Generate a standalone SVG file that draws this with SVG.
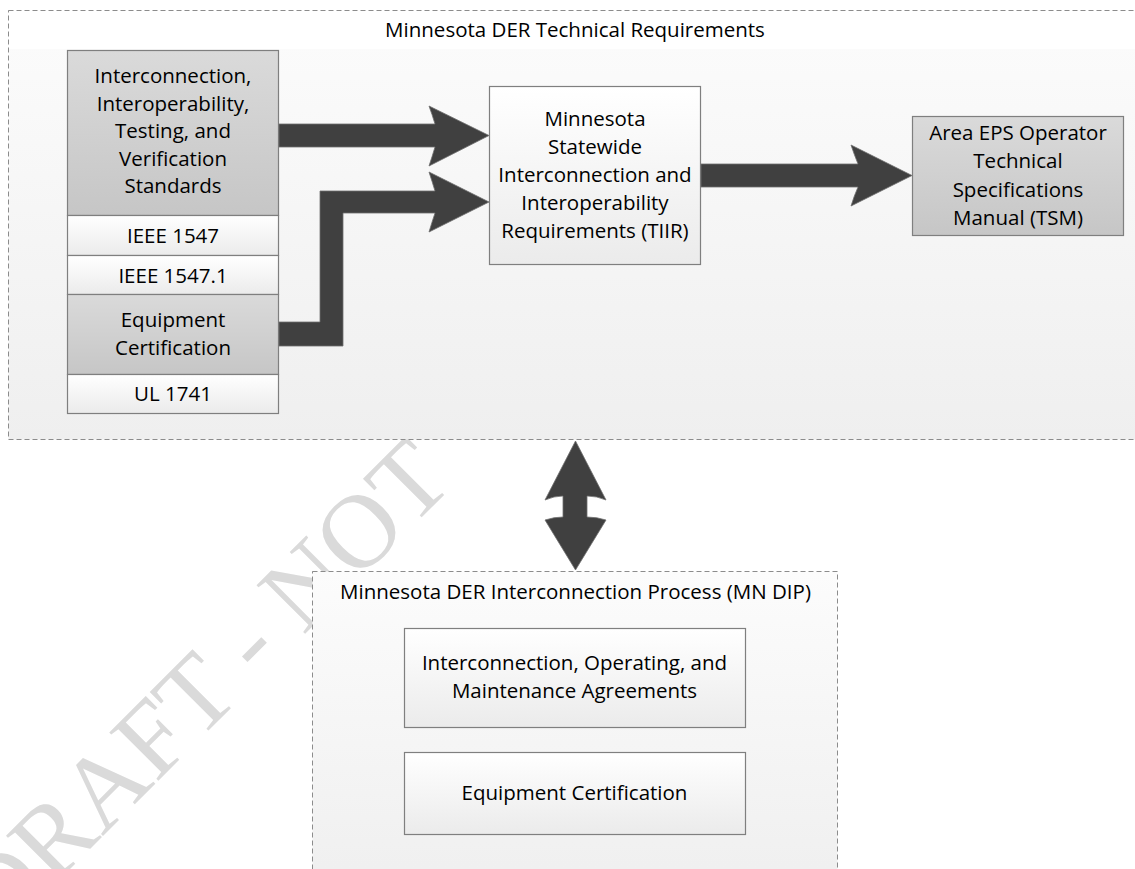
<svg xmlns="http://www.w3.org/2000/svg" width="1135" height="869" viewBox="0 0 1135 869">
<defs>
<linearGradient id="gCont" x1="0" y1="0" x2="0" y2="1">
<stop offset="0" stop-color="#fcfcfc"/>
<stop offset="1" stop-color="#efefef"/>
</linearGradient>
<linearGradient id="gWhite" x1="0" y1="0" x2="0" y2="1">
<stop offset="0" stop-color="#ffffff"/>
<stop offset="1" stop-color="#ebebeb"/>
</linearGradient>
<linearGradient id="gGrey" x1="0" y1="0" x2="0" y2="1">
<stop offset="0" stop-color="#dadada"/>
<stop offset="1" stop-color="#c6c6c6"/>
</linearGradient>
</defs>
<style>
.cont{fill:url(#gCont);stroke:#8c8c8c;stroke-width:1;stroke-dasharray:5,3}
.wbox{fill:url(#gWhite);stroke:#7f7f7f;stroke-width:1.2}
.gbox{fill:url(#gGrey);stroke:#7f7f7f;stroke-width:1.2}
.t{font-family:"Open Sans","Liberation Sans",sans-serif;font-size:20.5px;fill:#000;text-anchor:middle}
.arrow{fill:#404040;stroke:#6f6f6f;stroke-width:0.8;stroke-linejoin:miter}
.wm{font-family:"Liberation Serif","Times New Roman",serif;font-size:105px;fill:#dadada}
</style>
<rect x="0" y="0" width="1135" height="869" fill="#ffffff"/>
<g id="watermark">
<text class="wm" transform="translate(-1,940) rotate(-45)">DRAFT - NOT</text>
</g>
<g id="technical-requirements">
<rect class="cont" x="8.5" y="10.5" width="1140" height="429"/>
<rect x="9" y="11" width="1130" height="38" fill="#ffffff"/>
<text class="t" x="575" y="37">Minnesota DER Technical Requirements</text>
</g>
<g id="dip-process">
<rect class="cont" x="312.5" y="571.5" width="525" height="320"/>
<text class="t" x="575.5" y="599">Minnesota DER Interconnection Process (MN DIP)</text>
</g>
<g id="standards">
<rect class="gbox" x="67.5" y="50.5" width="211" height="165"/>
<text class="t" x="173" y="83">Interconnection,</text>
<text class="t" x="173" y="110.5">Interoperability,</text>
<text class="t" x="173" y="138">Testing, and</text>
<text class="t" x="173" y="165.5">Verification</text>
<text class="t" x="173" y="193">Standards</text>
</g>
<g id="ieee1547">
<rect class="wbox" x="67.5" y="215.5" width="211" height="40"/>
<text class="t" x="173" y="243">IEEE 1547</text>
</g>
<g id="ieee1547-1">
<rect class="wbox" x="67.5" y="255.5" width="211" height="39"/>
<text class="t" x="173" y="283">IEEE 1547.1</text>
</g>
<g id="equipment-certification-std">
<rect class="gbox" x="67.5" y="294.5" width="211" height="80"/>
<text class="t" x="173" y="327">Equipment</text>
<text class="t" x="173" y="355">Certification</text>
</g>
<g id="ul1741">
<rect class="wbox" x="67.5" y="374.5" width="211" height="39"/>
<text class="t" x="173" y="401">UL 1741</text>
</g>
<g id="tiir">
<rect class="wbox" x="489.5" y="86.5" width="211" height="178"/>
<text class="t" x="595" y="126">Minnesota</text>
<text class="t" x="595" y="154">Statewide</text>
<text class="t" x="595" y="182">Interconnection and</text>
<text class="t" x="595" y="210">Interoperability</text>
<text class="t" x="595" y="238">Requirements (TIIR)</text>
</g>
<g id="tsm">
<rect class="gbox" x="912.5" y="116.5" width="211" height="119"/>
<text class="t" x="1018" y="140">Area EPS Operator</text>
<text class="t" x="1018" y="168">Technical</text>
<text class="t" x="1018" y="197">Specifications</text>
<text class="t" x="1018" y="225">Manual (TSM)</text>
</g>
<g id="agreements">
<rect class="wbox" x="404.5" y="628.5" width="341" height="99"/>
<text class="t" x="574.5" y="670">Interconnection, Operating, and</text>
<text class="t" x="574.5" y="698">Maintenance Agreements</text>
</g>
<g id="equipment-certification-proc">
<rect class="wbox" x="404.5" y="752.5" width="341" height="82"/>
<text class="t" x="574.5" y="800">Equipment Certification</text>
</g>
<g id="connectors">
<path class="arrow" d="M279,124 L435,124 Q432,114 429,106 L489,135.5 L429,166 Q432,157 435,147 L279,147 Z"/>
<path class="arrow" d="M279,322 L320,322 L320,191 L435,191 Q432,181 429,172 L489,202 L429,232 Q432,222 435,213 L343,213 L343,346 L279,346 Z"/>
<path class="arrow" d="M701,164 L858,164 Q854,154 851,145 L912,175.5 L851,206 Q854,196 858,187 L701,187 Z"/>
<path class="arrow" d="M575.5,441 L606,500 Q597,496 587,496 L587,517 Q597,517 606,520 L575.5,570 L545,520 Q554,517 563,517 L563,496 Q554,496 545,500 Z"/>
</g>
</svg>
